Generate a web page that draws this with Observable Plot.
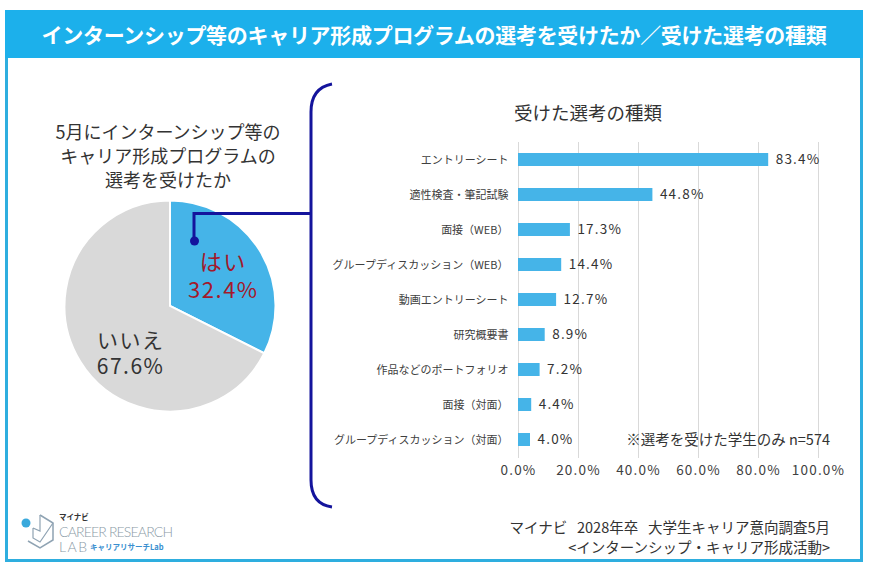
<!DOCTYPE html>
<html><head><meta charset="utf-8">
<script src="https://cdn.jsdelivr.net/npm/d3@7"></script>
<script src="https://cdn.jsdelivr.net/npm/@observablehq/plot@0.6"></script>
<style>
body{margin:0;background:#fff;font-family:"Noto Sans CJK JP","Noto Sans",sans-serif;color:#333}
#wrap{position:relative;width:873px;height:568px;overflow:hidden;background:#fff}
.abs{position:absolute;white-space:nowrap}
#frame{left:5px;top:10px;width:852px;height:546px;border:3px solid #2eaedf}
#banner{left:5px;top:10px;width:858px;height:48px;background:#1cb0eb;color:#fff;font-size:21px;font-weight:bold;text-align:center;line-height:48px;letter-spacing:-0.3px}
#pieTitle{left:40px;top:119px;width:256px;text-align:center;font-size:18px;line-height:24px;color:#333}
#barTitle{left:514px;top:99px;font-size:18.5px;color:#333}
#note{right:43px;top:428px;font-size:14.5px;color:#333}
#source{right:43px;top:517px;font-size:14.5px;line-height:20px;text-align:right;color:#333}
</style>
</head><body>
<div id="wrap">
  <div id="frame" class="abs"></div>
  <div id="banner" class="abs">インターンシップ等のキャリア形成プログラムの選考を受けたか／受けた選考の種類</div>
  <div id="pieTitle" class="abs">5月にインターンシップ等の<br>キャリア形成プログラムの<br>選考を受けたか</div>
  <div id="barTitle" class="abs">受けた選考の種類</div>
  <div id="pieBox" class="abs" style="left:59.5px;top:196px"></div>
  <div id="barBox" class="abs" style="left:320px;top:130px"></div>
  <div id="note" class="abs">※選考を受けた学生のみ n=574</div>
  <div id="source" class="abs">マイナビ&nbsp;&nbsp; 2028年卒&nbsp;&nbsp; 大学生キャリア意向調査5月<br>&lt;インターンシップ・キャリア形成活動&gt;</div>
  <svg id="deco" class="abs" style="left:0;top:0" width="873" height="568"></svg>
</div>
<script>
// ---- data ----
const pieCategories = ["はい", "いいえ"];
const pieValues = [32.4, 67.6];
const barCategories = ["エントリーシート", "適性検査・筆記試験", "面接（WEB）", "グループディスカッション（WEB）", "動画エントリーシート", "研究概要書", "作品などのポートフォリオ", "面接（対面）", "グループディスカッション（対面）"];
const barValues = [83.4, 44.8, 17.3, 14.4, 12.7, 8.9, 7.2, 4.4, 4.0];
const xTicks = [0, 20, 40, 60, 80, 100];

const FONT = '"Noto Sans CJK JP","Noto Sans",sans-serif';

// ---- pie ----
const pieData = pieCategories.map((c, i) => ({category: c, value: pieValues[i]}));
const arcs = d3.pie().sort(null).value(d => d.value)(pieData);
const labelArc = d3.arc().innerRadius(0).outerRadius(1.2);
const pieLabels = arcs.map(a => {
  const [cx, cy] = labelArc.centroid(a);
  return {category: a.data.category, x: cx, y: -cy, label: `${a.data.category}\n${a.data.value.toFixed(1)}%`};
});
const pieColor = Plot.scale({color: {domain: pieCategories, range: ["#45b4e8", "#d9d9d9"]}});

const pie = Plot.plot({
  width: 220, height: 220, margin: 4.5,
  style: {fontFamily: FONT, background: "transparent", overflow: "visible"},
  x: {domain: [-1, 1], axis: null},
  y: {domain: [-1, 1], axis: null},
  marks: [
    (index, scales) => {
      const cx = scales.x(0), cy = scales.y(0), r = scales.x(1) - scales.x(0);
      const arc = d3.arc().innerRadius(0).outerRadius(r);
      const g = d3.create("svg:g").attr("transform", `translate(${cx},${cy})`);
      g.selectAll("path").data(arcs).join("path")
        .attr("d", arc)
        .attr("fill", d => pieColor.apply(d.data.category))
        .attr("stroke", "#fff").attr("stroke-width", 2);
      return g.node();
    },
    Plot.text(pieLabels.filter(d => d.category === "はい"), {x: "x", y: "y", text: "label", fill: "#a3192b", fontSize: 22, lineHeight: 1.25, dx: -1, dy: 2}),
    Plot.text(pieLabels.filter(d => d.category === "いいえ"), {x: "x", y: "y", text: "label", fill: "#333", fontSize: 21, lineHeight: 1.22, dx: 14, dy: 13})
  ]
});
d3.select(pie).selectAll("text").style("letter-spacing", "1.5px");
document.getElementById("pieBox").appendChild(pie);

// ---- bars ----
const barData = barCategories.map((c, i) => ({category: c, value: barValues[i]}));
const bar = Plot.plot({
  width: 520, height: 358, marginLeft: 198, marginRight: 22, marginTop: 12, marginBottom: 30,
  style: {fontFamily: FONT, background: "transparent", overflow: "visible"},
  x: {domain: [0, 100], label: null},
  y: {domain: barCategories, paddingInner: 0.62, paddingOuter: 0.31, label: null},
  marks: [
    Plot.ruleX(xTicks, {stroke: "#d9d9d9", strokeWidth: 1}),
    Plot.barX(barData, {x: "value", y: "category", fill: "#45b4e8"}),
    Plot.text(barData, {x: "value", y: "category", text: d => d.value.toFixed(1) + "%", textAnchor: "start", dx: 7, fontSize: 13.5, fill: "#333"}),
    Plot.axisX({ticks: xTicks, tickFormat: d => d.toFixed(1) + "%", tickSize: 0, tickPadding: 7, fontSize: 13.5, fill: "#404040", label: null}),
    Plot.axisY({tickSize: 0, tickPadding: 10, fontSize: 11, fill: "#404040", label: null})
  ]
});
d3.select(bar).selectAll('g[aria-label="text"] text, g[aria-label="x-axis tick label"] text').style("letter-spacing", "1.2px");
document.getElementById("barBox").appendChild(bar);

// ---- decorations: bracket, connector, logo ----
const deco = d3.select("#deco");
const navy = "#14149c";
deco.append("path")
  .attr("d", "M332,84 Q311,88 311,112 L311,480 Q311,504 332,507")
  .attr("fill", "none").attr("stroke", navy).attr("stroke-width", 3);
deco.append("path")
  .attr("d", "M194,242 L194,213.5 L311,213.5")
  .attr("fill", "none").attr("stroke", navy).attr("stroke-width", 3);
deco.append("circle").attr("cx", 194.5).attr("cy", 241).attr("r", 4.5).attr("fill", navy);

// logo
const logo = deco.append("g");
logo.append("path").attr("d", "M40,515 L53,523 L53,540 L40,548 L28,541")
  .attr("fill", "none").attr("stroke", "#8fa3b3").attr("stroke-width", 1.5);
logo.append("path").attr("d", "M33,528 L33,538 L40,542 L53,523 M40,515 L40,531 L33,528")
  .attr("fill", "none").attr("stroke", "#8fa3b3").attr("stroke-width", 1.2);
logo.append("circle").attr("cx", 26).attr("cy", 523).attr("r", 4.5).attr("fill", "#3aa9dc");
logo.append("text").attr("x", 59).attr("y", 520).attr("font-size", 7.5).attr("font-weight", "bold").attr("fill", "#333").attr("font-family", FONT).text("マイナビ");
logo.append("text").attr("x", 59).attr("y", 536.5).attr("font-size", 14).attr("fill", "#8a9aa6").attr("font-family", "Lato, sans-serif").attr("font-weight", 300).attr("textLength", 114).text("CAREER RESEARCH");
logo.append("text").attr("x", 59).attr("y", 552).attr("font-size", 14).attr("fill", "#8a9aa6").attr("font-family", "Lato, sans-serif").attr("font-weight", 300).attr("letter-spacing", "1.5px").text("LAB");
logo.append("text").attr("x", 90).attr("y", 550).attr("font-size", 7.5).attr("font-weight", "bold").attr("fill", "#3a8fd0").attr("font-family", FONT).text("キャリアリサーチLab");
</script>
</body></html>
